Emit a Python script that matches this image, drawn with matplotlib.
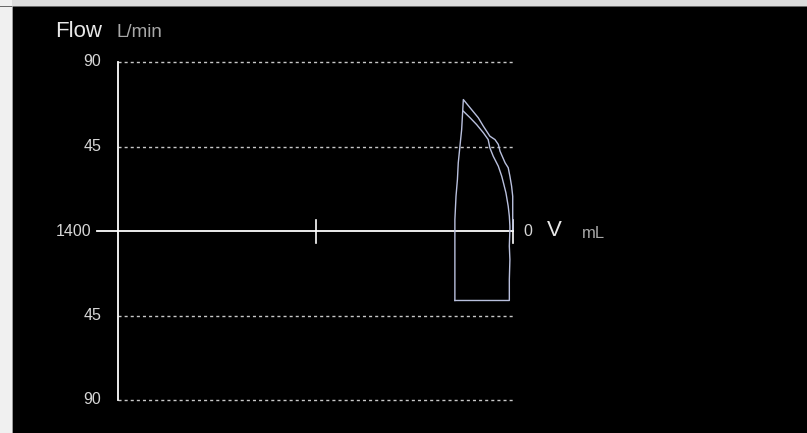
# Flow-volume loop on a black ventilator-style screen
import matplotlib
matplotlib.use("Agg")
import matplotlib.pyplot as plt
from matplotlib.patches import Rectangle

# %% data
# volume (mL) and flow (L/min)
# outer breath: left edge up to the peak, then the outer expiratory curve
outer_vol = [206, 206, 202, 197, 194, 188, 182, 176, 152, 123, 105, 82, 64, 52,
             46, 28, 17, 11, 5, 1, 1, 1]
outer_flow = [-37, 6, 18.5, 27.4, 36.3, 45.2, 54.0, 70.0, 65.6, 60.3, 55.8, 50.5,
              48.7, 46.1, 42.5, 36.3, 33.7, 29.2, 23.9, 18.5, 6.1, 0.8]

# inner breath: second expiratory curve, right edge down, bottom back to the left
inner_vol = [176, 152, 129, 105, 88, 82, 70, 52, 40, 34, 25, 17, 13, 11,
             11, 13, 11, 13, 13, 206]
inner_flow = [63.8, 60.3, 56.7, 52.3, 48.7, 44.3, 39.8, 34.5, 29.2, 25.7, 20.3,
              13.2, 7.9, 2.6, 0.8, -8.1, -15.2, -25.8, -37.0, -37.0]

flow_ticks = [90, 45, 0, -45, -90]
flow_labels = ["90", "45", "1400", "45", "90"]
vol_ticks = [700, 0]
vol_max = 1400

# %% figure
W, H = 807, 433
fig = plt.figure(figsize=(W / 100, H / 100), dpi=100, facecolor="black")

# window frame (light gray strips on top and left)
fig.patches.append(Rectangle((0, 1 - 6 / H), 1, 6 / H, transform=fig.transFigure,
                             facecolor="#dcdcdc", edgecolor="none"))
fig.patches.append(Rectangle((0, 0), 12 / W, 1, transform=fig.transFigure,
                             facecolor="#f0f0f0", edgecolor="none"))
fig.patches.append(Rectangle((0, 1 - 7 / H), 1, 1.2 / H, transform=fig.transFigure,
                             facecolor="#6a6a6a", edgecolor="none"))
fig.patches.append(Rectangle((12 / W, 0), 1.2 / W, 1 - 6 / H, transform=fig.transFigure,
                             facecolor="#9a9a9a", edgecolor="none"))

ax = fig.add_axes([118 / W, 33 / H, 395 / W, 338 / H])
ax.set_facecolor("black")
ax.set_xlim(vol_max, 0)
ax.set_ylim(-90, 90)
for s in ax.spines.values():
    s.set_visible(False)
ax.set_xticks([])
ax.set_yticks([])

# dashed grid lines
for f in flow_ticks:
    if f != 0:
        ax.plot([vol_max, 0], [f, f], color="#c8c8c8", lw=1.0,
                ls=(0, (2.2, 2.2)), clip_on=False)

# axes
ax.plot([vol_max, vol_max], [-90, 90], color="white", lw=1.3, clip_on=False)
ext = 21 / (395 / vol_max)
ax.plot([vol_max + ext, 0], [0, 0], color="white", lw=1.3, clip_on=False)
for v in vol_ticks:
    ax.plot([v, v], [-6.5, 6], color="white", lw=1.2, clip_on=False)

# loops
loop_color = "#b9c0de"
ax.plot(outer_vol, outer_flow, color=loop_color, lw=1.0, clip_on=False)
ax.plot(inner_vol, inner_flow, color=loop_color, lw=1.0, clip_on=False)

# y labels
num_font = dict(family="Liberation Sans", fontsize=11.5, color="#d6d6d6")
for f, lab in zip(flow_ticks, flow_labels):
    off = -27 if lab == "1400" else -17
    ax.annotate(lab, xy=(0, f), xycoords=("axes fraction", "data"),
                xytext=(off, 0), textcoords="offset pixels",
                ha="right", va="center", **num_font)

# x axis labels on the right
ax.annotate("0", xy=(0, 0), xycoords="data", xytext=(10, 0),
            textcoords="offset pixels", ha="left", va="center", **num_font)
ax.annotate("V", xy=(0, 0), xycoords="data", xytext=(34, 0),
            textcoords="offset pixels", ha="left", va="center",
            family="Liberation Sans", fontsize=16, color="#e8e8e8")
ax.annotate("mL", xy=(0, 0), xycoords="data", xytext=(69, -2),
            textcoords="offset pixels", ha="left", va="center",
            family="Liberation Sans", fontsize=12, color="#a8a8a8")

# title
fig.text(55 / W, 1 - 37 / H, "Flow", family="Liberation Sans", fontsize=16,
         color="#e8e8e8", va="baseline", ha="left")
fig.text(117 / W, 1 - 37 / H, "L/min", family="Liberation Sans", fontsize=13.5,
         color="#a8a8a8", va="baseline", ha="left")

fig.savefig("out.png", dpi=100, facecolor=fig.get_facecolor())
